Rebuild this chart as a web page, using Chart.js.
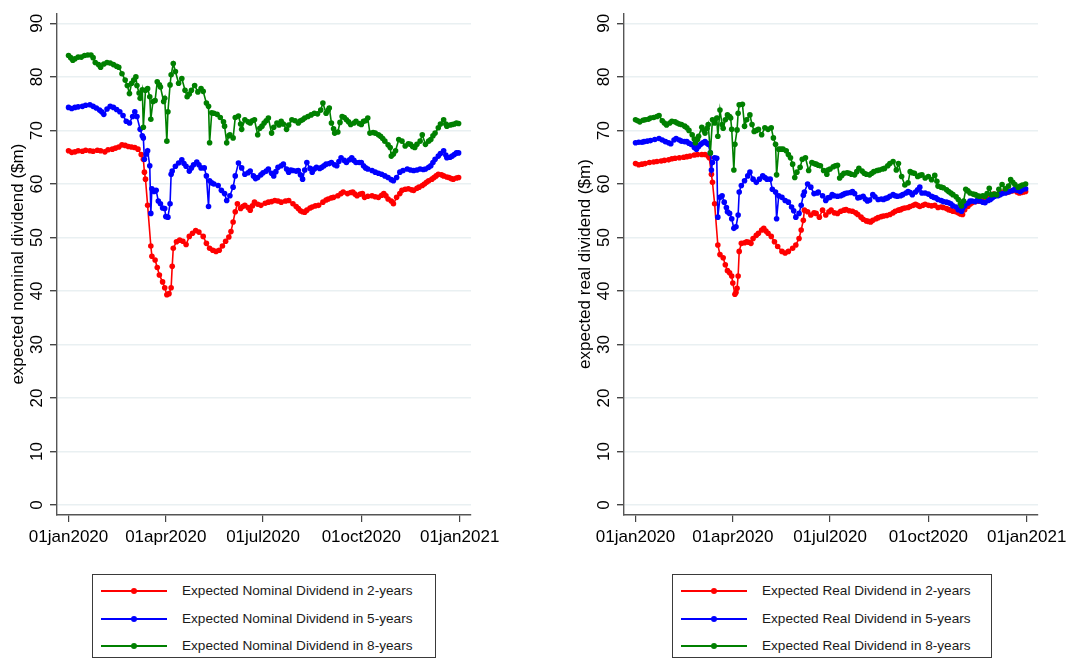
<!DOCTYPE html>
<html>
<head>
<meta charset="utf-8">
<script src="https://cdn.jsdelivr.net/npm/chart.js@4"></script>
<style>
  html, body { margin: 0; padding: 0; background: #fff; }
  body { width: 1073px; height: 661px; position: relative; overflow: hidden;
         font-family: "Liberation Sans", Arial, sans-serif; }
  canvas { position: absolute; top: 0; }
  #nominal { left: 0; }
  #real { left: 567px; }
  .legend { position: absolute; top: 574px; height: 84px; border: 1px solid #3a3a3a;
            box-sizing: border-box; background: #fff; }
  .legend .row { position: absolute; left: 0; height: 20px; font-size: 13.6px; color: #1a1a1a;
                 line-height: 20px; white-space: nowrap; }
  .legend .swatch { position: absolute; top: 9px; width: 66px; height: 2px; }
  .legend .dot { position: absolute; top: -2px; left: 30px; width: 6px; height: 6px; border-radius: 50%; }
  .legend .label { position: absolute; top: 0; }
</style>
</head>
<body>
<canvas id="nominal" width="530" height="560"></canvas>
<canvas id="real" width="530" height="560"></canvas>
<div class="legend" id="legend-nominal" style="left:92px;width:344px;"></div>
<div class="legend" id="legend-real" style="left:672px;width:320px;"></div>
<script>
// x values are days since 01jan2020
const tickDays   = [0, 91, 182, 274, 366];
const tickLabels = ['01jan2020', '01apr2020', '01jul2020', '01oct2020', '01jan2021'];
const yTicks     = [0, 10, 20, 30, 40, 50, 60, 70, 80, 90];

const seriesColors = ['#ff0000', '#0000ff', '#008000'];

const nominalLabels = ['Expected Nominal Dividend in 2-years', 'Expected Nominal Dividend in 5-years', 'Expected Nominal Dividend in 8-years'];
const realLabels    = ['Expected Real Dividend in 2-years', 'Expected Real Dividend in 5-years', 'Expected Real Dividend in 8-years'];

const nominal2 = [[0,66.2],[3,65.9],[6,66.0],[9,66.2],[13,66.1],[16,66.3],[20,66.2],[23,66.1],[27,66.3],[30,66.2],[34,66.0],[37,66.4],[41,66.5],[44,66.7],[47,66.9],[50,67.3],[53,67.2],[56,67.0],[59,66.9],[62,66.8],[65,66.5],[68,65.5],[70,64.6],[71,62.2],[72,60.9],[74,56.0],[77,48.4],[78,46.5],[81,45.8],[83,44.4],[85,43.0],[88,41.7],[90,40.6],[92,39.3],[94,39.5],[96,40.6],[97,44.6],[98,48.0],[101,49.2],[104,49.5],[107,49.3],[110,48.7],[113,50.2],[116,50.8],[119,51.3],[122,51.0],[126,50.2],[129,48.9],[132,48.0],[135,47.6],[138,47.4],[141,47.6],[144,48.4],[147,49.3],[150,50.1],[152,51.1],[154,52.9],[156,54.8],[158,56.3],[161,55.4],[163,55.8],[165,56.0],[168,55.6],[170,55.1],[172,55.9],[174,56.6],[177,56.2],[180,56.0],[184,56.4],[187,56.6],[190,56.7],[193,56.9],[196,56.8],[199,56.6],[203,56.8],[206,56.9],[210,56.3],[213,55.8],[215,55.4],[217,55.0],[219,54.8],[221,54.7],[223,55.1],[226,55.5],[228,55.7],[231,55.9],[234,56.0],[238,56.6],[241,57.0],[243,57.2],[246,57.4],[248,57.5],[252,57.8],[255,58.2],[257,58.5],[261,58.2],[264,58.4],[266,58.5],[268,58.1],[270,57.8],[273,58.1],[275,58.2],[277,57.5],[280,57.7],[284,57.8],[287,57.6],[290,57.5],[293,57.9],[295,58.2],[297,57.8],[299,57.2],[302,56.8],[304,56.3],[307,57.5],[310,58.2],[312,58.8],[315,59.0],[318,59.1],[321,58.9],[323,58.8],[326,59.2],[328,59.4],[331,59.7],[333,60.0],[335,60.3],[337,60.6],[340,60.9],[342,61.2],[344,61.5],[346,61.8],[349,61.7],[351,61.5],[354,61.3],[356,61.2],[358,61.0],[360,60.9],[363,61.1],[365,61.2]];

const nominal5 = [[0,74.3],[3,74.1],[6,74.3],[9,74.4],[13,74.5],[16,74.7],[20,74.8],[23,74.5],[26,74.2],[29,73.8],[31,73.5],[33,73.0],[36,74.0],[39,74.5],[42,74.3],[45,73.9],[48,73.5],[51,72.8],[54,71.7],[57,71.4],[60,72.6],[62,73.5],[64,72.6],[67,70.2],[69,69.0],[70,68.6],[71,64.6],[73,65.6],[74,66.2],[76,63.4],[77,54.5],[78,59.1],[80,58.6],[82,58.8],[84,56.8],[86,56.3],[88,55.5],[90,55.4],[91,53.9],[93,53.8],[95,56.3],[96,61.8],[97,62.4],[100,63.3],[103,63.9],[106,64.5],[108,63.8],[110,63.3],[113,62.4],[115,63.0],[117,63.6],[120,64.1],[122,63.6],[124,63.0],[127,63.0],[129,61.5],[131,55.8],[132,60.6],[134,60.2],[136,60.0],[140,59.7],[143,58.8],[146,58.2],[148,56.9],[151,57.8],[154,59.4],[156,61.5],[159,63.9],[162,63.0],[165,61.8],[168,62.1],[170,62.4],[173,61.5],[175,61.0],[177,61.2],[180,61.7],[182,62.1],[185,62.4],[187,62.8],[190,62.0],[192,61.5],[194,62.3],[196,63.1],[199,63.4],[201,63.7],[204,62.8],[206,62.2],[208,62.6],[210,62.5],[213,62.4],[215,62.5],[217,61.7],[219,60.9],[221,62.6],[223,64.0],[226,62.9],[228,62.2],[230,62.8],[232,63.1],[235,62.9],[237,63.1],[239,63.4],[241,63.7],[244,63.8],[246,64.0],[249,63.6],[251,63.4],[253,64.2],[255,64.9],[258,64.4],[260,64.0],[263,64.5],[265,64.9],[267,64.4],[269,64.0],[272,64.0],[274,64.0],[276,63.4],[278,63.0],[280,62.8],[284,62.5],[287,62.2],[290,62.0],[293,61.8],[296,61.5],[299,61.2],[302,60.8],[304,60.6],[307,61.2],[310,62.2],[313,62.5],[317,62.8],[320,62.6],[323,62.5],[326,62.6],[329,62.8],[332,62.7],[334,62.8],[337,63.1],[339,63.4],[341,64.0],[343,64.6],[346,65.2],[348,65.7],[351,66.2],[353,65.4],[354,64.9],[357,65.0],[359,65.2],[361,65.5],[363,65.8],[365,65.8]];

const nominal8 = [[0,84.0],[2,83.6],[4,83.1],[6,83.4],[9,83.7],[12,83.7],[15,84.0],[18,84.1],[21,84.1],[23,83.6],[25,82.7],[28,82.3],[30,81.8],[33,82.4],[36,82.7],[39,82.6],[42,82.3],[45,82.0],[47,81.8],[50,80.6],[53,79.4],[55,78.4],[57,76.9],[59,78.8],[61,79.4],[63,80.0],[64,78.4],[66,77.0],[67,76.0],[69,77.6],[70,70.6],[72,77.5],[74,77.8],[76,76.3],[77,72.1],[79,75.4],[81,75.6],[83,79.1],[85,78.5],[86,78.1],[89,75.4],[90,76.0],[92,68.0],[93,73.5],[95,78.5],[96,80.4],[98,82.5],[100,81.0],[103,78.8],[106,79.7],[109,77.5],[111,76.3],[113,76.8],[115,77.5],[118,78.4],[121,77.2],[124,77.8],[126,77.3],[129,75.1],[131,74.5],[132,67.7],[134,73.3],[136,73.2],[139,73.0],[142,72.4],[145,71.6],[146,70.8],[148,67.7],[150,69.0],[151,69.2],[154,68.6],[156,72.4],[159,72.7],[161,71.2],[162,70.2],[165,72.0],[168,71.6],[170,71.4],[172,71.8],[174,72.0],[177,69.2],[179,70.4],[181,70.8],[183,71.4],[185,71.8],[187,72.3],[190,69.5],[192,70.6],[195,71.4],[197,71.0],[199,71.7],[201,71.2],[204,70.2],[206,71.0],[209,72.0],[212,71.8],[215,71.4],[217,71.8],[219,72.0],[221,72.3],[224,72.6],[227,72.9],[230,73.2],[233,73.1],[236,73.8],[238,75.1],[241,73.2],[243,73.8],[244,74.2],[246,71.4],[248,70.3],[249,69.5],[252,69.7],[254,71.5],[256,72.6],[258,72.4],[260,72.0],[262,71.6],[264,71.1],[267,71.4],[269,71.7],[272,71.3],[274,71.1],[276,71.7],[278,71.8],[280,72.3],[282,69.5],[285,69.6],[287,69.5],[290,69.2],[292,68.9],[294,68.5],[296,68.0],[299,67.3],[301,66.8],[302,65.2],[304,65.6],[306,66.2],[309,68.3],[312,68.0],[315,67.1],[318,67.5],[320,67.4],[322,67.0],[324,66.8],[326,67.4],[329,68.0],[331,69.2],[334,67.4],[337,68.0],[339,68.3],[341,69.0],[343,69.5],[346,70.5],[348,71.2],[351,72.0],[353,71.2],[354,70.8],[357,71.0],[359,71.1],[361,71.2],[363,71.4],[365,71.3]];

const real2 = [[0,63.8],[3,63.6],[6,63.7],[9,63.8],[13,64.0],[17,64.1],[20,64.2],[24,64.3],[27,64.4],[31,64.5],[34,64.7],[37,64.8],[41,64.9],[45,65.0],[48,65.1],[51,65.2],[55,65.4],[58,65.5],[62,65.5],[65,65.5],[68,65.2],[69,64.9],[71,61.8],[72,60.3],[74,56.3],[77,48.6],[79,46.8],[82,46.2],[84,44.9],[86,43.8],[88,43.4],[90,42.8],[91,41.5],[93,39.4],[94,39.7],[95,40.5],[96,42.8],[97,47.4],[99,48.9],[102,49.0],[104,49.2],[106,49.1],[108,48.9],[110,49.8],[113,50.4],[115,50.8],[118,51.4],[120,51.7],[122,51.2],[124,50.8],[127,50.2],[130,49.2],[133,48.3],[137,47.4],[140,47.1],[143,47.4],[147,48.0],[150,48.6],[153,49.8],[155,51.4],[157,53.2],[158,55.1],[161,54.8],[164,54.2],[167,54.6],[169,54.5],[172,53.8],[175,55.1],[178,54.2],[181,54.8],[183,55.1],[186,54.6],[189,54.5],[192,54.9],[195,55.1],[197,55.2],[200,55.0],[203,54.9],[206,54.6],[208,54.3],[211,53.8],[213,53.4],[216,53.1],[218,53.0],[220,52.9],[222,53.2],[225,53.5],[227,53.7],[230,53.9],[232,54.0],[235,54.1],[238,54.3],[241,54.6],[243,54.9],[246,55.1],[248,55.2],[250,55.4],[252,55.5],[255,55.6],[257,55.8],[260,56.0],[262,56.2],[264,56.0],[266,55.8],[269,56.0],[271,56.2],[274,56.0],[277,55.9],[280,56.0],[283,55.6],[286,55.7],[288,55.6],[291,55.4],[293,55.2],[295,55.1],[297,54.9],[300,54.8],[302,54.6],[304,54.4],[306,54.3],[308,55.2],[311,55.8],[313,56.2],[315,56.5],[318,56.7],[320,56.8],[322,56.8],[325,57.0],[327,57.1],[330,57.3],[332,57.5],[335,58.1],[337,58.0],[340,58.0],[342,58.3],[344,58.5],[347,58.4],[349,58.5],[352,58.7],[354,58.8],[357,58.5],[359,58.3],[361,58.4],[363,58.5],[365,58.6]];

const real5 = [[0,67.7],[3,67.8],[6,67.8],[8,67.9],[11,68.0],[14,68.1],[18,68.3],[22,68.5],[25,68.2],[28,67.9],[31,67.7],[33,67.5],[36,68.2],[38,68.5],[41,68.2],[43,68.0],[46,67.9],[48,67.9],[50,67.6],[52,67.4],[55,66.8],[57,66.5],[59,67.0],[61,67.4],[63,67.7],[65,67.9],[67,67.6],[68,67.4],[70,65.8],[71,62.6],[72,64.0],[74,64.9],[76,64.8],[77,53.8],[79,57.5],[81,57.8],[83,56.6],[85,55.6],[86,54.8],[88,54.5],[90,53.5],[92,51.7],[94,52.0],[96,54.2],[97,58.5],[99,59.7],[102,60.6],[105,61.5],[107,62.2],[110,60.9],[113,60.3],[116,60.9],[119,61.5],[121,61.2],[123,60.9],[126,60.9],[128,59.0],[131,58.5],[132,53.5],[134,57.8],[137,57.5],[140,56.9],[143,56.6],[146,55.7],[148,55.0],[150,53.8],[153,54.5],[155,56.0],[157,57.9],[158,58.5],[161,60.0],[164,59.4],[167,58.2],[170,58.3],[171,58.5],[175,57.8],[178,56.9],[180,57.4],[182,57.5],[184,58.0],[186,57.8],[189,57.7],[192,57.8],[194,58.0],[196,58.2],[198,58.3],[201,58.4],[203,58.6],[205,58.2],[208,57.4],[210,57.5],[213,57.7],[215,57.2],[217,56.8],[219,57.0],[222,58.0],[224,57.6],[227,57.1],[230,57.2],[232,57.1],[234,57.3],[236,57.4],[238,57.7],[241,58.0],[243,57.8],[245,57.7],[248,57.8],[250,58.0],[253,58.3],[255,58.6],[257,58.4],[259,58.0],[262,58.5],[264,58.9],[266,59.4],[268,58.3],[271,58.3],[274,58.1],[277,57.7],[279,57.5],[281,57.4],[283,57.1],[286,56.9],[288,56.7],[291,56.6],[293,56.5],[295,56.3],[297,55.9],[300,55.7],[302,55.2],[305,54.9],[306,55.4],[308,55.9],[311,56.4],[313,56.8],[315,56.8],[318,56.7],[320,57.0],[322,56.8],[325,56.6],[327,56.5],[330,56.9],[332,57.1],[334,57.4],[336,57.7],[339,57.8],[341,58.0],[343,58.2],[346,58.3],[348,58.5],[350,58.6],[353,58.8],[355,59.0],[357,58.8],[360,58.6],[362,58.9],[365,59.1]];

const real8 = [[0,72.0],[2,71.8],[4,71.6],[7,71.9],[9,72.0],[12,72.1],[14,72.3],[17,72.4],[20,72.6],[22,72.8],[25,71.8],[27,71.4],[29,71.0],[32,71.4],[34,71.7],[37,71.6],[39,71.4],[41,71.2],[43,71.1],[46,70.8],[48,70.5],[50,70.0],[53,69.2],[55,68.4],[56,67.7],[58,68.3],[59,68.9],[62,70.6],[64,70.0],[65,69.5],[67,70.4],[68,71.1],[70,65.8],[72,72.0],[74,71.4],[76,72.3],[77,68.9],[79,73.8],[81,71.1],[82,70.4],[84,72.0],[86,72.9],[88,72.6],[89,72.3],[90,70.2],[92,62.6],[93,67.4],[95,70.1],[96,73.2],[97,74.8],[100,74.9],[102,70.8],[104,72.0],[107,72.9],[109,71.1],[111,69.8],[113,70.0],[115,70.2],[118,69.2],[121,70.5],[124,70.2],[127,70.5],[129,68.6],[131,67.4],[132,61.7],[134,66.5],[136,66.5],[138,66.5],[141,66.2],[143,65.5],[145,64.9],[147,63.7],[149,61.2],[151,62.2],[154,63.1],[156,64.6],[159,64.9],[162,62.5],[165,64.0],[167,63.8],[169,63.7],[171,63.5],[173,63.4],[176,62.5],[179,61.8],[180,62.6],[182,62.8],[185,63.2],[187,63.4],[189,63.5],[191,61.1],[193,61.6],[195,62.0],[198,62.1],[200,62.0],[202,61.8],[205,61.7],[207,62.3],[209,62.9],[212,62.4],[214,62.0],[216,61.8],[219,61.7],[221,62.0],[223,62.3],[226,62.5],[228,62.6],[231,62.8],[233,62.9],[236,63.4],[238,63.8],[241,64.2],[244,62.6],[246,63.8],[249,61.4],[252,59.8],[255,60.2],[257,62.3],[259,62.1],[261,62.0],[264,61.4],[266,61.6],[268,61.7],[271,61.1],[274,61.4],[277,60.8],[280,61.6],[282,60.5],[283,59.6],[286,59.4],[288,59.3],[291,58.9],[293,58.6],[295,58.3],[297,58.0],[300,57.6],[302,57.1],[304,56.3],[305,55.9],[307,56.8],[309,59.0],[311,58.7],[313,58.3],[316,58.1],[318,58.0],[320,57.8],[322,57.7],[325,57.8],[327,57.7],[329,58.2],[331,59.2],[333,58.0],[336,58.1],[338,58.0],[340,59.0],[343,59.9],[346,59.1],[349,59.6],[351,60.8],[353,60.3],[355,59.9],[358,59.4],[360,59.6],[362,59.8],[365,60.0]];

Chart.defaults.font.family = '"Liberation Sans", Arial, sans-serif';
Chart.defaults.color = '#000';

function toPoints(pairs) {
  return pairs.map(p => ({ x: p[0], y: p[1] }));
}

function makeChart(id, title, labels, series) {
  const datasets = series.map((s, i) => ({
    label: labels[i],
    data: toPoints(s),
    borderColor: seriesColors[i],
    backgroundColor: seriesColors[i],
    borderWidth: 1.6,
    pointRadius: 2.8,
    pointBorderWidth: 0,
    pointHoverRadius: 0,
    tension: 0,
    order: 3 - i,   // green on top
  }));

  return new Chart(document.getElementById(id), {
    type: 'line',
    data: { datasets },
    options: {
      responsive: false,
      animation: false,
      events: [],
      layout: { padding: { left: 0, top: 7, right: 59, bottom: 0 } },
      plugins: { legend: { display: false }, tooltip: { enabled: false } },
      scales: {
        x: {
          type: 'linear',
          min: -10.8,
          max: 376.6,
          afterBuildTicks: s => { s.ticks = tickDays.map(v => ({ value: v })); },
          afterFit: s => { s.height = 45; },
          ticks: {
            font: { size: 17 },
            padding: 5,
            maxRotation: 0,
            autoSkip: false,
            callback: v => tickLabels[tickDays.indexOf(v)],
          },
          grid: { drawOnChartArea: false, drawTicks: true, tickLength: 7, tickColor: '#444', lineWidth: 1.2 },
          border: { display: true, color: '#555', width: 1.4 },
        },
        y: {
          min: -1.85,
          max: 91.9,
          afterBuildTicks: s => { s.ticks = yTicks.map(v => ({ value: v })); },
          afterFit: s => { s.width = 57; },
          ticks: {
            font: { size: 17 },
            padding: 3,
            minRotation: 90,
            maxRotation: 90,
            crossAlign: 'center',
            autoSkip: false,
          },
          grid: { color: '#e9f0f2', lineWidth: 1.4, drawTicks: true, tickLength: 7, tickColor: '#444' },
          border: { display: true, color: '#555', width: 1.4 },
          title: { display: true, text: title, font: { size: 17 }, padding: { top: 8, bottom: 0 } },
        },
      },
    },
  });
}

function makeLegend(id, labels) {
  const box = document.getElementById(id);
  const rowTops = [6, 33.5, 61];
  labels.forEach((txt, i) => {
    const row = document.createElement('div');
    row.className = 'row';
    row.style.top = rowTops[i] + 'px';
    row.innerHTML =
      '<div class="swatch" style="left:8px;background:' + seriesColors[i] + '">' +
      '<div class="dot" style="background:' + seriesColors[i] + '"></div></div>' +
      '<div class="label" style="left:89px">' + txt + '</div>';
    box.appendChild(row);
  });
}

makeChart('nominal', 'expected nominal dividend ($m)', nominalLabels, [nominal2, nominal5, nominal8]);
makeChart('real', 'expected real dividend ($m)', realLabels, [real2, real5, real8]);
makeLegend('legend-nominal', nominalLabels);
makeLegend('legend-real', realLabels);
</script>
</body>
</html>
